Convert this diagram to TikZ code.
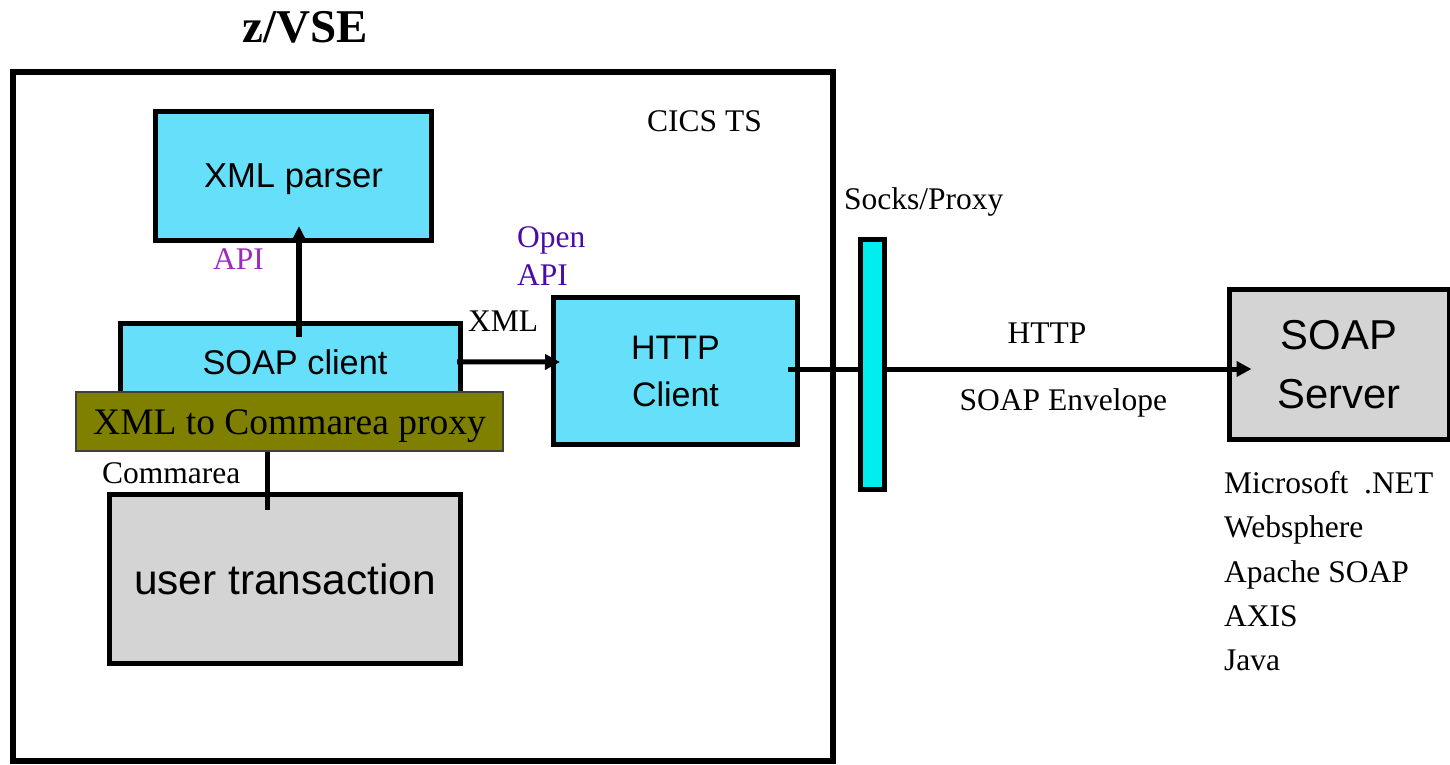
\documentclass[tikz,border=0pt]{standalone}
\usepackage{fontspec}
\setmainfont{Liberation Serif}
\newfontfamily\arialf{Liberation Sans}
\usetikzlibrary{arrows.meta}
\definecolor{boxcyan}{RGB}{102,224,250}
\definecolor{barcyan}{RGB}{0,238,238}
\definecolor{boxgray}{RGB}{212,212,212}
\definecolor{olivebox}{RGB}{128,128,0}
\definecolor{apipurple}{RGB}{155,45,190}
\definecolor{openindigo}{RGB}{75,12,165}
\begin{document}
\begin{tikzpicture}[x=1pt,y=-1pt,
  box/.style={draw=black,line width=5pt,inner sep=0pt,anchor=center},
  lbl/.style={inner sep=0pt,anchor=base west,font=\fontsize{31.5}{38}\selectfont},
  conn/.style={line width=5pt},
  tipbig/.style={-{Triangle[length=15pt,width=15pt]}}
]
\useasboundingbox (0,0) rectangle (1450,764);

\node[lbl,font=\bfseries\fontsize{47}{56}\selectfont] (title) at (242,42) {z/VSE};
\node[draw=black,line width=5.5pt,minimum width=820pt,minimum height=689pt,inner sep=0pt] (zvse) at (423,416.5) {};
\node[lbl] (cics) at (647,131) {CICS TS};

\node[box,fill=boxcyan,minimum width=276pt,minimum height=129pt,text depth=-5pt,font=\arialf\fontsize{34.6}{40}\selectfont] (xmlp) at (293.5,176) {XML parser};
\node[box,fill=boxcyan,minimum width=340pt,minimum height=76.5pt,font=\arialf\fontsize{34.3}{40}\selectfont] (soapc) at (290.5,361.75) {\hspace*{9pt}SOAP client};
\node[draw=black!75,line width=1.2pt,fill=olivebox,inner sep=0pt,minimum width=427pt,minimum height=59pt,text height=25pt,text depth=0pt,font=\fontsize{37.5}{45}\selectfont] (proxy) at (289.5,421.5) {XML to Commarea proxy};
\node[box,fill=boxgray,minimum width=351pt,minimum height=169pt,font=\arialf\fontsize{42.4}{50}\selectfont] (utrans) at (285,579) {user transaction};
\node[box,fill=boxcyan,minimum width=244pt,minimum height=147pt,align=center,font=\arialf\fontsize{34}{47}\selectfont] (httpc) at (675.5,371) {HTTP\\Client};
\node[box,fill=boxgray,minimum width=220pt,minimum height=150pt,align=center,text depth=-6pt,font=\arialf\fontsize{41.8}{59}\selectfont] (soaps) at (1339,364.5) {SOAP\\Server};

\node[lbl,text=apipurple] (api) at (213,269) {API};
\node[lbl,text=openindigo] (open) at (517,247) {Open};
\node[lbl,text=openindigo] (openapi) at (517,285) {API};
\node[lbl] (xmll) at (468,331) {XML};
\node[lbl] (comm) at (102,483) {Commarea};
\node[lbl] (socksl) at (844,209) {Socks/Proxy};
\node[lbl,anchor=base] (httpl) at (1047,343) {HTTP};
\node[lbl] (env) at (959.5,410) {SOAP Envelope};

\node[lbl] (l1) at (1224,493) {Microsoft\ \ .NET};
\node[lbl] (l2) at (1224,537) {Websphere};
\node[lbl] (l3) at (1224,582) {Apache SOAP};
\node[lbl] (l4) at (1224,626) {AXIS};
\node[lbl] (l5) at (1224,670) {Java};

\draw[conn,line width=6pt,-{Triangle[length=14pt,width=13pt]}] ([xshift=8.5pt,yshift=-16pt]soapc.north) -- ([xshift=5.5pt,yshift=17pt]xmlp.south);
\draw[conn,tipbig] ([xshift=-6pt]soapc.east) -- ([xshift=9pt,yshift=9pt]httpc.west);
\draw[conn] ([xshift=-22.5pt]proxy.south) -- ([xshift=-18pt,yshift=-18pt]utrans.north);
\draw[conn,tipbig] ([xshift=-12pt,yshift=2pt]httpc.east) -- ([xshift=25pt,yshift=-4.5pt]soaps.west);

\node[box,fill=barcyan,minimum width=24pt,minimum height=250pt] (socks) at (872.5,364.5) {};
\end{tikzpicture}
\end{document}
